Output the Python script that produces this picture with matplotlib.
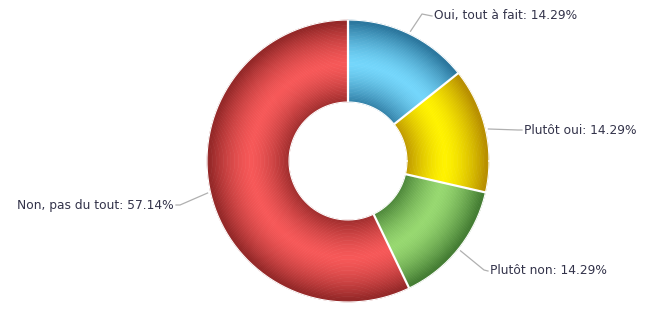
import numpy as np
import matplotlib.pyplot as plt
from matplotlib.colors import to_rgb

# ── Data ───────────────────────────────────────────────────────────────────────
labels = ['Oui, tout à fait', 'Plutôt oui', 'Plutôt non', 'Non, pas du tout']
values = [14.29, 14.29, 14.29, 57.14]
light_cols = ['#74d6fb', '#fff200', '#97d870', '#f65858']
dark_cols = ['#2b779e', '#b88f00', '#447d33', '#952828']

# ── Layout (pixel coords) ─────────────────────────────────────────────────────
W, H = 656, 312
cx, cy = 348, H - 161
R_out, R_in = 141, 59

fig = plt.figure(figsize=(W / 100, H / 100), dpi=100)
ax = fig.add_axes([0, 0, 1, 1])

# shaded ring: many thin concentric donuts
n_rings = 60
edges = np.linspace(R_in, R_out, n_rings + 1)
r_mid = R_in + 0.47 * (R_out - R_in)
half = (R_out - R_in) / 2
for i in range(n_rings):
    r0, r1 = edges[i], edges[i + 1]
    rc = (r0 + r1) / 2
    t = min(abs(rc - r_mid) / half, 1.0) ** 1.5
    cols = [tuple(np.array(to_rgb(l)) * (1 - t) + np.array(to_rgb(d)) * t)
            for l, d in zip(light_cols, dark_cols)]
    ax.pie(values, radius=r1 + 0.3, center=(cx, cy), colors=cols,
           startangle=90, counterclock=False,
           wedgeprops=dict(width=(r1 - r0) + 0.6, linewidth=0))

# white separators between slices
total = sum(values)
bounds = 90 - np.cumsum([0] + values) / total * 360
for a in bounds[:-1]:
    th = np.deg2rad(a)
    ax.plot([cx + R_in * np.cos(th), cx + R_out * np.cos(th)],
            [cy + R_in * np.sin(th), cy + R_out * np.sin(th)],
            color='white', lw=1.6, solid_capstyle='butt', zorder=5)
circ = np.linspace(0, 2 * np.pi, 400)
ax.plot(cx + R_out * np.cos(circ), cy + R_out * np.sin(circ), color='white', lw=0.8, zorder=5)
ax.plot(cx + R_in * np.cos(circ), cy + R_in * np.sin(circ), color='white', lw=0.8, zorder=5)

# labels with leader lines
# (elbow point, text position, alignment)
label_layout = [
    ((422, H - 14), (434, H - 16), 'left'),
    ((518, H - 130), (524, H - 130), 'left'),
    ((484, H - 270), (490, H - 271), 'left'),
    ((180, H - 205), (174, H - 205), 'right'),
]
mids = 90 - (np.cumsum([0] + values)[:-1] + np.array(values) / 2) / total * 360
for lab, v, m, (elbow, tpos, ha) in zip(labels, values, mids, label_layout):
    th = np.deg2rad(m)
    sx, sy = cx + (R_out + 3) * np.cos(th), cy + (R_out + 3) * np.sin(th)
    ax.plot([sx, elbow[0], tpos[0] + (-2 if ha == 'left' else 2)],
            [sy, elbow[1], tpos[1]], color='#b0b0b0', lw=0.9)
    ax.text(tpos[0], tpos[1], f'{lab}: {v:.2f}%', ha=ha, va='center',
            fontsize=8.8, color='#33334a', family='DejaVu Sans')

ax.set_xlim(0, W)
ax.set_ylim(0, H)
ax.set_aspect('equal')
ax.axis('off')

fig.savefig('out.png', dpi=100)
